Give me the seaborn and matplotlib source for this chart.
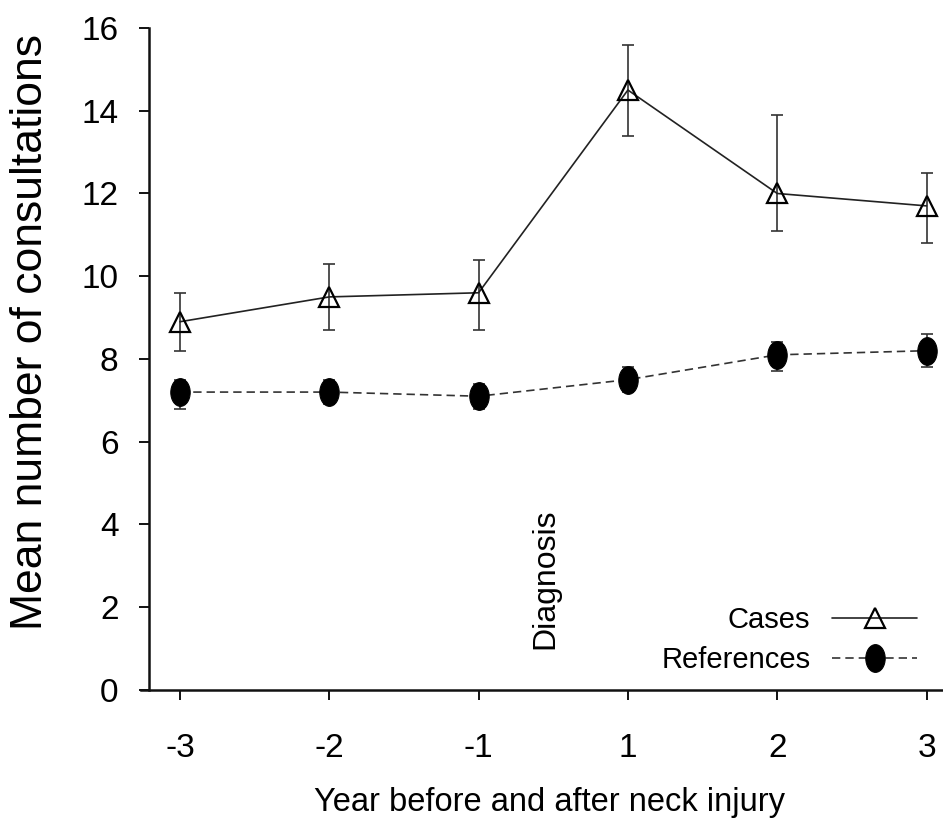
import numpy as np
import pandas as pd
import matplotlib
matplotlib.use("Agg")
import matplotlib.pyplot as plt
import matplotlib.path as mpath
import seaborn as sns

# ---------------------------------------
# Data
# ---------------------------------------
years = ["-3", "-2", "-1", "1", "2", "3"]
cases_mean = [8.9, 9.5, 9.6, 14.5, 12.0, 11.7]
cases_low = [8.2, 8.7, 8.7, 13.4, 11.1, 10.8]
cases_high = [9.6, 10.3, 10.4, 15.6, 13.9, 12.5]
ref_mean = [7.2, 7.2, 7.1, 7.5, 8.1, 8.2]
ref_low = [6.8, 6.9, 6.8, 7.2, 7.7, 7.8]
ref_high = [7.5, 7.5, 7.4, 7.8, 8.4, 8.6]

pos = np.arange(len(years))
df = pd.DataFrame({"pos": pos, "cases": cases_mean, "refs": ref_mean})

# ---------------------------------------
# Style
# ---------------------------------------
sns.set_style("ticks")
plt.rcParams["font.family"] = ["Liberation Sans", "DejaVu Sans"]
plt.rcParams["text.color"] = "black"
plt.rcParams["axes.labelcolor"] = "black"
plt.rcParams["xtick.color"] = "black"
plt.rcParams["ytick.color"] = "black"

# ---------------------------------------
# Figure
# ---------------------------------------
fig = plt.figure(figsize=(9.43, 8.3), dpi=100)
ax = fig.add_axes([0.158, 0.1687, 0.842, 0.7976])

# error bars
ax.errorbar(pos, cases_mean,
            yerr=[np.subtract(cases_mean, cases_low), np.subtract(cases_high, cases_mean)],
            fmt="none", ecolor="#333333", elinewidth=1.2, capsize=4, capthick=1.2, zorder=2)
ax.errorbar(pos, ref_mean,
            yerr=[np.subtract(ref_mean, ref_low), np.subtract(ref_high, ref_mean)],
            fmt="none", ecolor="#333333", elinewidth=1.2, capsize=4, capthick=1.2, zorder=2)

# vertical ellipse marker for references
circ = mpath.Path.unit_circle()
ellipse = mpath.Path(circ.vertices * [0.7, 1.0], circ.codes)

sns.lineplot(data=df, x="pos", y="cases", ax=ax, color="#222222", linewidth=1.2,
             marker="^", markersize=14, markerfacecolor="none",
             markeredgecolor="black", markeredgewidth=1.6, label="Cases", zorder=3)
sns.lineplot(data=df, x="pos", y="refs", ax=ax, color="#333333", linewidth=1.2,
             linestyle=(0, (5, 3)), marker=ellipse, markersize=20,
             markerfacecolor="black", markeredgecolor="black", label="References", zorder=3)

# ---------------------------------------
# Axes styling
# ---------------------------------------
ax.set_xlim(-0.207, 5.11)
ax.set_ylim(0, 16)
ax.set_xticks(pos)
ax.set_xticklabels(years, fontsize=24)
ax.set_yticks(range(0, 17, 2))
ax.set_yticklabels([str(v) for v in range(0, 17, 2)], fontsize=24)
ax.tick_params(axis="both", direction="out", length=7, width=1.4, color="#111111")
ax.tick_params(axis="y", pad=15)
ax.tick_params(axis="x", pad=24)

for side in ["top", "right"]:
    ax.spines[side].set_visible(False)
for side in ["left", "bottom"]:
    ax.spines[side].set_linewidth(1.8)
    ax.spines[side].set_color("#111111")
ax.spines["left"].set_bounds(0, 16)
ax.spines["bottom"].set_bounds(-0.26, 5.11)

ax.set_xlabel("Year before and after neck injury", fontsize=23.5)
ax.set_ylabel("Mean number of consultations", fontsize=32)
ax.xaxis.set_label_coords(0.504, -0.146)
ax.yaxis.set_label_coords(-0.123, 0.541)

ax.text(2.45, 2.7, "Diagnosis", rotation=90, ha="center", va="center", fontsize=23)

ax.legend(loc="lower right", bbox_to_anchor=(0.967, 0.024), frameon=False,
          markerfirst=False, handlelength=2.9, handletextpad=0.75, labelspacing=0.4,
          borderpad=0, borderaxespad=0, prop={"size": 21})

fig.savefig("out.png", dpi=100)
